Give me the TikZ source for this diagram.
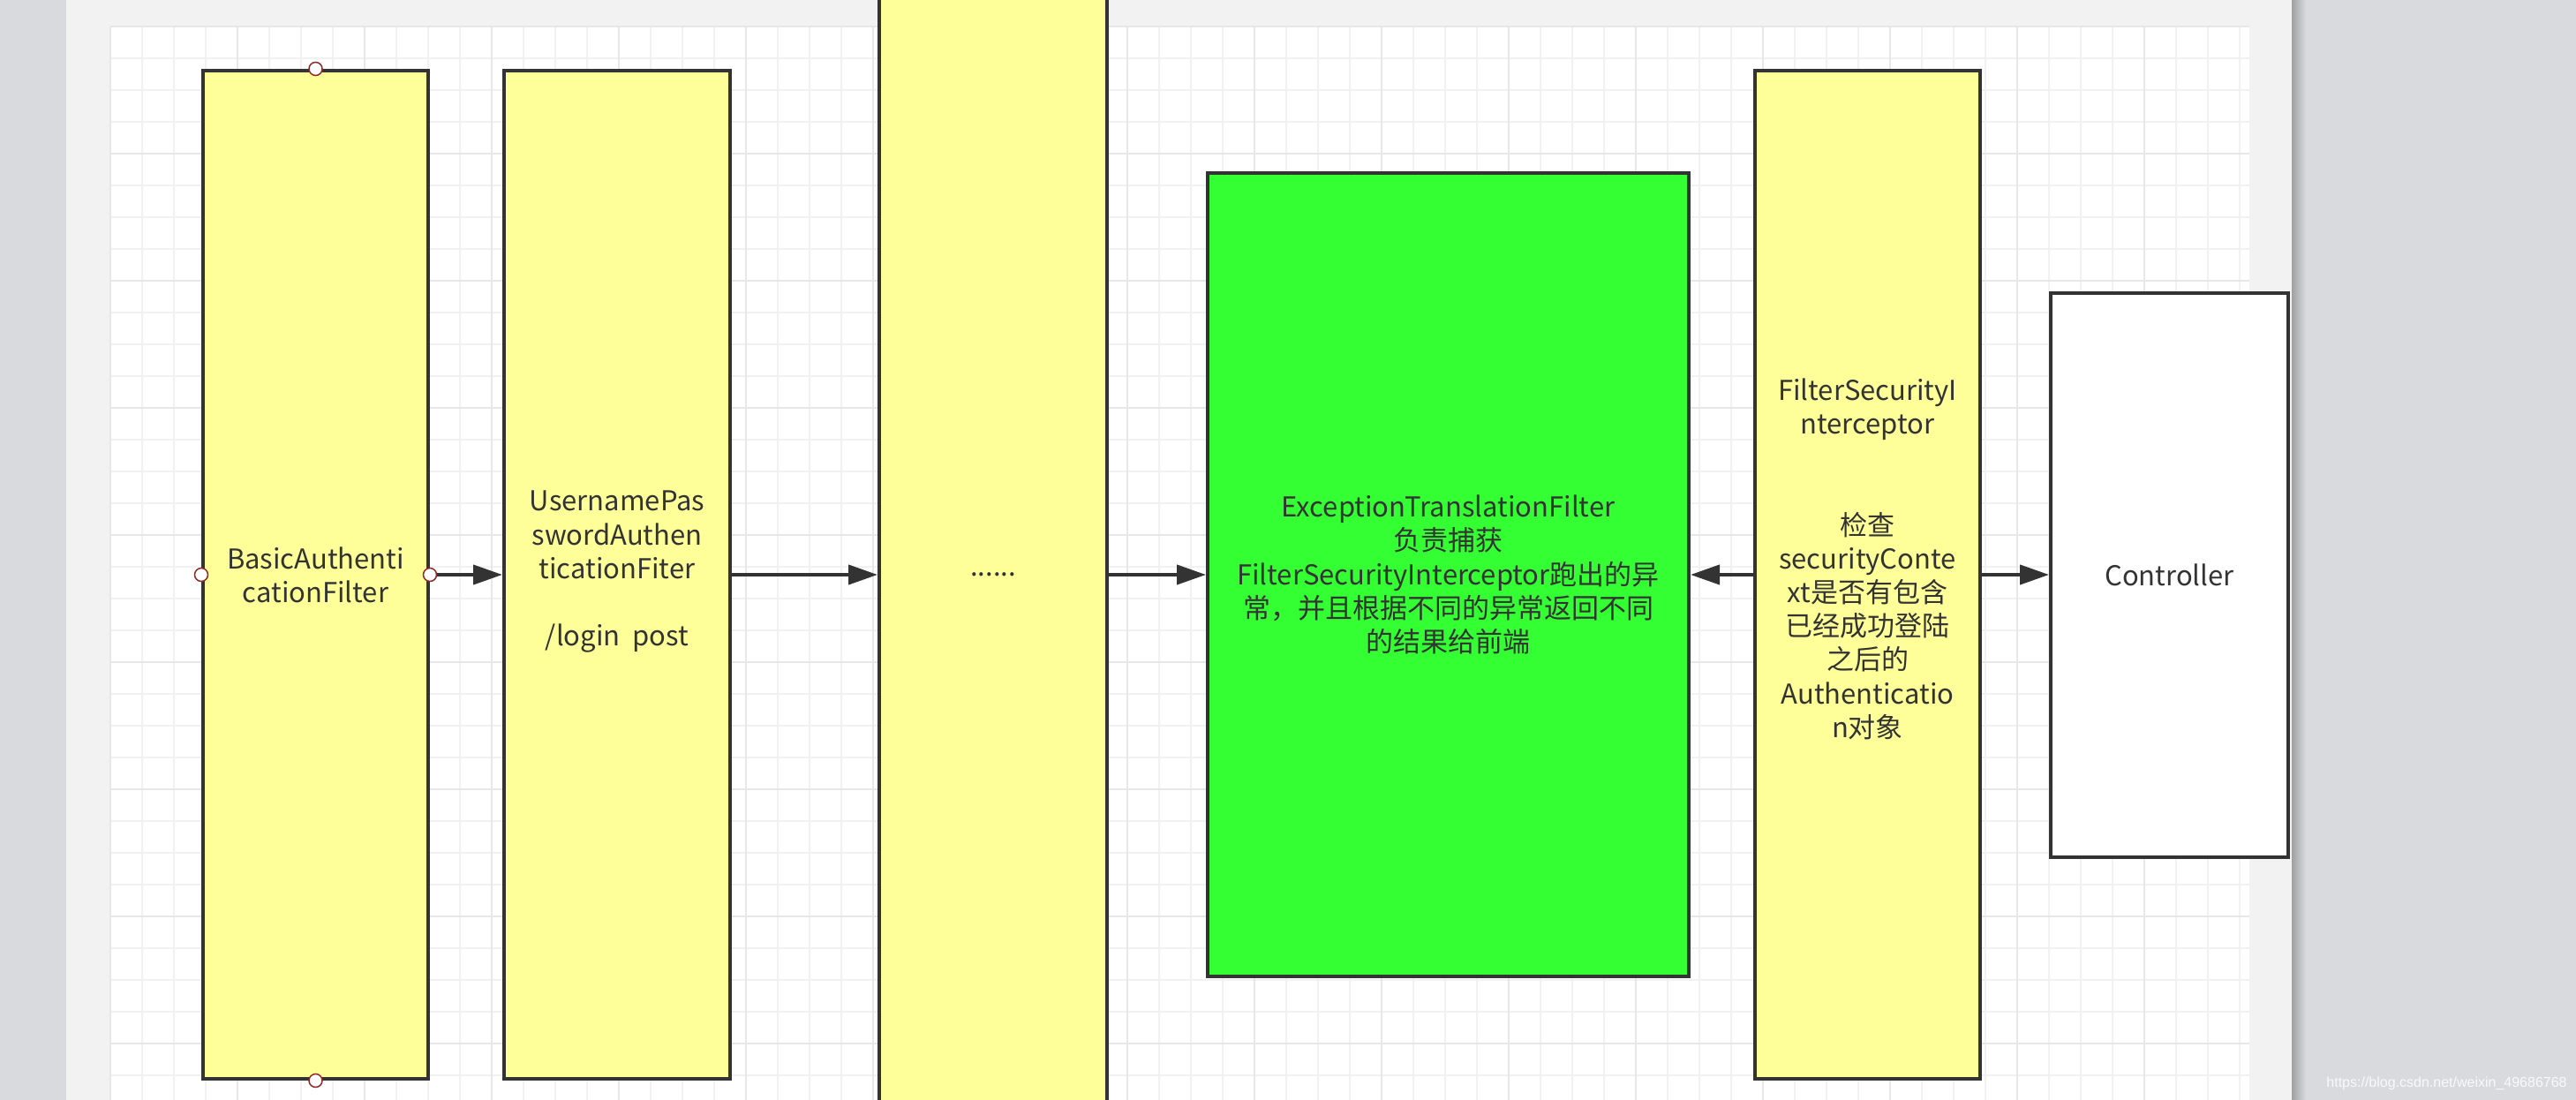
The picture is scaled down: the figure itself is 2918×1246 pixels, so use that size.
\documentclass[tikz,border=0pt]{standalone}
\usepackage{fontspec}
\setmainfont{Noto Sans CJK SC}
\newfontfamily\urlfont{Liberation Sans}
\usetikzlibrary{arrows.meta}

\definecolor{filteryellow}{HTML}{FFFF99}
\definecolor{filtergreen}{HTML}{33FF33}
\definecolor{edgegray}{HTML}{333333}
\definecolor{pagegray}{HTML}{F2F2F2}
\definecolor{deskgray}{HTML}{D9DADE}
\definecolor{gridminor}{HTML}{F1F1F1}
\definecolor{gridmajor}{HTML}{E7E7E7}
\definecolor{pointred}{HTML}{8E2A2A}

\begin{document}
\begin{tikzpicture}[x=0.5pt,y=0.5pt,yscale=-1,xscale=1,
  box/.style={draw=edgegray, line width=2pt, fill=filteryellow, text=edgegray, align=center, inner sep=0pt, font=\fontsize{15.5}{19.1}\selectfont},
  flow/.style={draw=edgegray, line width=2pt, -{Triangle[length=16.5pt,width=11pt]}},
  point/.style={circle, draw=pointred, line width=0.75pt, fill=white, inner sep=0pt, minimum size=7.5pt}]
\useasboundingbox (0,0) rectangle (2918,1246);
\clip (0,0) rectangle (2918,1246);

%Shape: Rectangle (desk)
\fill[deskgray] (0,0) rectangle (2918,1246);
%Shape: Rectangle (page)
\fill[pagegray] (75,0) rectangle (2596,1246);
\fill[white] (125,30) rectangle (2548,1246);
%Shape: Shadow
\shade[left color=gray!75, right color=deskgray] (2596,0) rectangle (2612,1246);

%Grid
\foreach \gx in {125,161,...,2548} \draw[gridminor, line width=1pt] (\gx,30) -- (\gx,1246);
\foreach \gy in {30,66,...,1246} \draw[gridminor, line width=1pt] (125,\gy) -- (2548,\gy);
\foreach \gx in {125,269,...,2548} \draw[gridmajor, line width=1pt] (\gx,30) -- (\gx,1246);
\foreach \gy in {30,174,...,1246} \draw[gridmajor, line width=1pt] (125,\gy) -- (2548,\gy);

%Shape: Rectangle
\node[box, minimum width=127.5pt, minimum height=571pt] (basic) at (357.5,651) {BasicAuthenti\\cationFilter};
%Shape: Rectangle
\node[box, minimum width=128pt, minimum height=571pt] (upf) at (699,651) {\mbox{}\\[-11pt]UsernamePas\\swordAuthen\\ticationFiter\\[\baselineskip]/login\ \ post};
%Shape: Rectangle
\node[box, minimum width=129pt, minimum height=750pt] (dots) at (1125,651) {......};
%Shape: Rectangle
\node[box, fill=filtergreen, minimum width=272.5pt, minimum height=455pt] (etf) at (1640.5,651) {ExceptionTranslationFilter\\负责捕获\\FilterSecurityInterceptor跑出的异\\常，并且根据不同的异常返回不同\\的结果给前端};
%Shape: Rectangle
\node[box, minimum width=127.5pt, minimum height=570.5pt] (fsi) at (2115.5,651) {FilterSecurityI\\nterceptor\\[2\baselineskip]检查\\securityConte\\xt是否有包含\\已经成功登陆\\之后的\\Authenticatio\\n对象\\\mbox{}};
%Shape: Rectangle
\node[box, fill=white, minimum width=134.5pt, minimum height=319.5pt] (ctrl) at (2457.5,651) {Controller};

%Straight Lines
\draw[flow] (basic.east) -- (upf.west);
%Straight Lines
\draw[flow] (upf.east) -- (dots.west);
%Straight Lines
\draw[flow] (dots.east) -- (etf.west);
%Straight Lines
\draw[flow] (fsi.west) -- (etf.east);
%Straight Lines
\draw[flow] (fsi.east) -- (ctrl.west);

%Shape: Circle
\node[point] (basic-n) at (basic.north) {};
\node[point] (basic-s) at (basic.south) {};
\node[point] (basic-w) at (basic.west) {};
\node[point] (basic-e) at (basic.east) {};

% Text Node
\node[anchor=east, text=white, opacity=0.85, inner sep=0pt, font=\urlfont\fontsize{8}{9}\selectfont] (mark) at (2908,1227) {https://blog.csdn.net/weixin\_49686768};

\end{tikzpicture}
\end{document}
